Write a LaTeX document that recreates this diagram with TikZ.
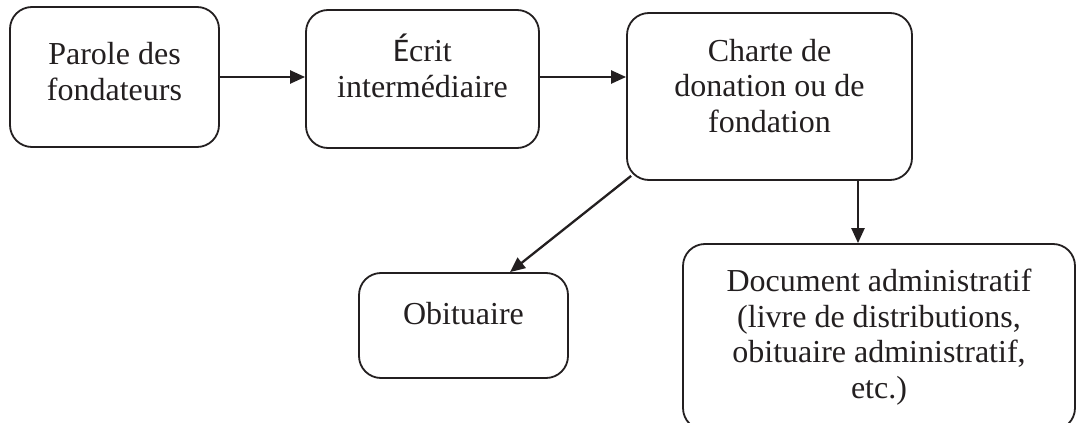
\documentclass[tikz,border=0pt]{standalone}
\usepackage{fontspec}
\setmainfont{Liberation Serif}
\newfontfamily\carlito{Carlito}
\usetikzlibrary{arrows.meta,calc}
\definecolor{ink}{RGB}{35,31,32}
\begin{document}
\begin{tikzpicture}[x=1pt,y=-1pt,
  box/.style={draw=ink,line width=1.8pt,rounded corners=22pt,inner sep=0pt},
  txt/.style={text=ink,align=center,anchor=base,inner sep=0pt,
    font=\fontsize{32}{35.5}\selectfont},
  arr/.style={draw=ink,line width=2.3pt,-{Triangle[length=15pt,width=13pt]}}]
\useasboundingbox[fill=white] (0,0) rectangle (1077,423);
\node[box,minimum width=209pt,minimum height=140pt] (b1) at (114.5,77) {};
\node[box,minimum width=233pt,minimum height=138pt] (b2) at (422.5,79) {};
\node[box,minimum width=285pt,minimum height=167pt] (b3) at (769.5,96.5) {};
\node[box,minimum width=209pt,minimum height=105pt] (b4) at (463.5,325.5) {};
\node[box,minimum width=392pt,minimum height=186pt] (b5) at (879,337) {};
\node[txt] (t1) at (114.5,100) {Parole des\\fondateurs};
\node[txt] (t2) at (422.5,97) {{\carlito\fontsize{33}{35.5}\selectfont É}crit\\intermédiaire};
\node[txt] (t3) at (769.5,132) {Charte de\\donation ou de\\fondation};
\node[txt] (t4) at (463.5,324) {Obituaire};
\node[txt] (t5) at (879,398) {Document administratif\\(livre de distributions,\\obituaire administratif,\\etc.)};
\coordinate (vx) at (858,0);
\draw[arr] (b1.east) -- (b1.east -| b2.west);
\draw[arr] (b2.east |- b1.east) -- (b1.east -| b3.west);
\draw[arr] ($(b3.south west)+(5,-5)$) -- ($(b4.north)+(46.5,0)$);
\draw[arr] (vx |- b3.south) -- (vx |- b5.north);
\end{tikzpicture}
\end{document}
